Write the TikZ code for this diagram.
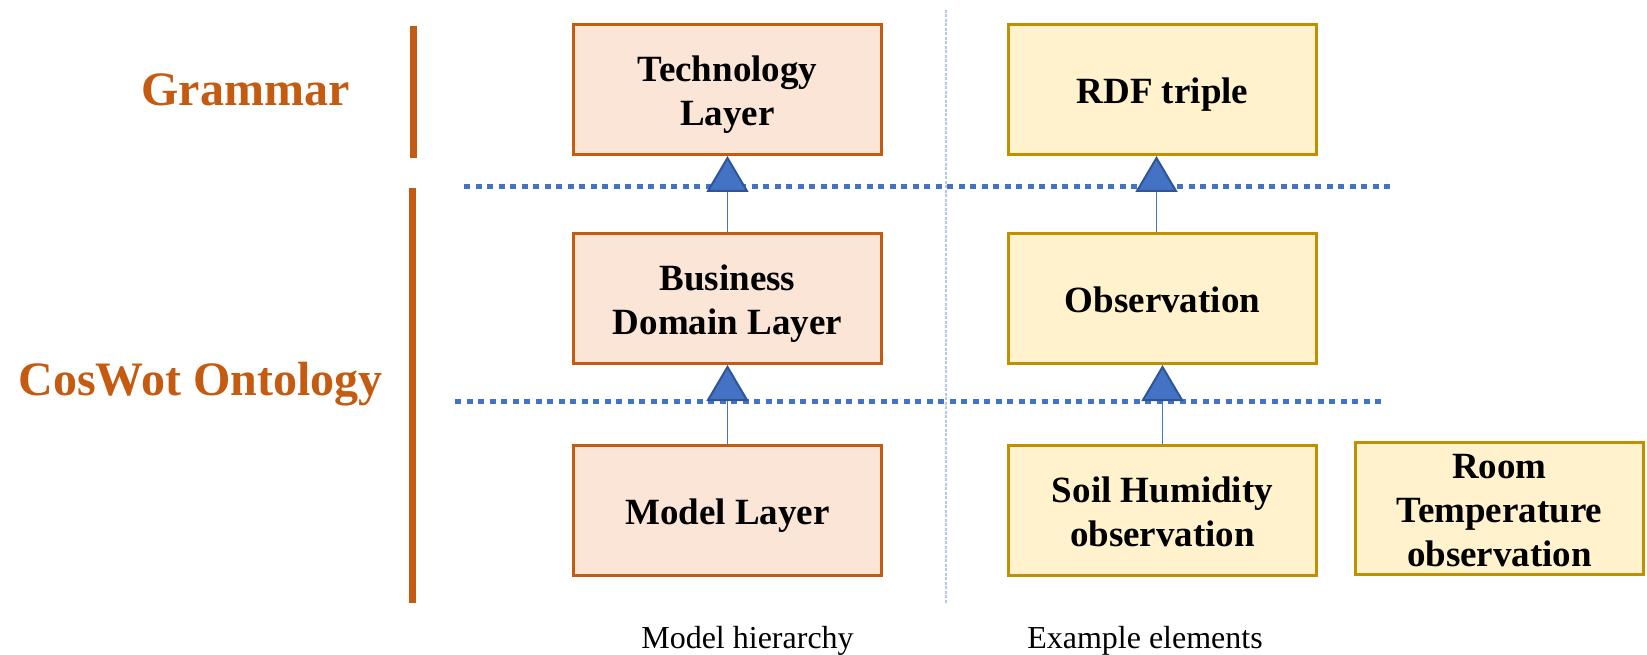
\documentclass[tikz,border=0pt]{standalone}
\usepackage{fontspec}
\setmainfont{Liberation Serif}
\usetikzlibrary{arrows.meta}
\definecolor{orng}{HTML}{C55A11}
\definecolor{orngfill}{HTML}{FBE5D6}
\definecolor{gold}{HTML}{BF9000}
\definecolor{yelfill}{HTML}{FFF2CC}
\definecolor{blu}{HTML}{4472C4}
\definecolor{dblu}{HTML}{2F5597}
\definecolor{lblu}{HTML}{B4C7E7}
\newcommand{\topst}{\rule{0pt}{38pt}}
\newcommand{\botst}{\rule[-10pt]{0pt}{10pt}}
\newcommand{\topsr}{\rule{0pt}{36pt}}
\newcommand{\botsr}{\rule[-8pt]{0pt}{8pt}}
\tikzset{
  boxtext/.style={align=center, font=\bfseries\fontsize{37}{44}\selectfont, inner sep=0pt},
  layerbox/.style={boxtext, draw=orng, fill=orngfill, line width=3pt, minimum width=308pt, minimum height=130pt},
  exbox/.style={boxtext, draw=gold, fill=yelfill, line width=3pt, minimum width=308pt, minimum height=130pt},
  biglabel/.style={text=orng, font=\bfseries\fontsize{48}{56}\selectfont, anchor=base, inner sep=0pt},
  caption/.style={font=\fontsize{32}{38}\selectfont, anchor=base, inner sep=0pt},
  bar/.style={draw=orng, line width=7pt},
  sepline/.style={draw=blu, line width=5pt, dash pattern=on 6pt off 5.5pt},
  conn/.style={draw=blu, line width=1pt, -{Triangle[length=36pt, width=42pt, line width=2pt, color=dblu, fill=blu]}}
}
\begin{document}
\begin{tikzpicture}[x=1pt, y=-1pt]
\useasboundingbox (0,0) rectangle (1647,655);
% labels
\node[biglabel] (gram) at (245.5,106) {Grammar};
\node[biglabel] (onto) at (200.5,395) {CosWot Ontology};
\node[caption] (caph) at (747.5,648) {Model hierarchy};
\node[caption] (cape) at (1145,648) {Example elements};
% bars
\draw[bar] (413,26) -- (413,158);
\draw[bar] (412,188) -- (412,603);
% vertical light separator
\draw[draw=lblu, line width=1.5pt, dash pattern=on 3pt off 1.5pt] (946,10) -- (946,603);
% boxes
\node[layerbox] (tech) at (727.5,89.5) {\topst Technology\\Layer\botst};
\node[layerbox] (biz) at (727.5,298.5) {\topst Business\\Domain Layer\botst};
\node[layerbox] (model) at (727.5,510) {\topst Model Layer\botst};
\node[exbox] (rdf) at (1162.5,89.5) {\topst RDF triple\botst};
\node[exbox] (obs) at (1162.5,298.5) {\topst Observation\botst};
\node[exbox] (soil) at (1162.5,510) {\topst Soil Humidity\\observation\botst};
\node[exbox, minimum width=288pt, minimum height=132pt]
  (room) at (1499.5,508.5) {\topsr Room\\Temperature\\observation\botsr};
% dotted separators
\draw[sepline] (464,187) -- (1393,187);
\draw[sepline] (455,401) -- (1385,401);
% connectors
\draw[conn] (biz.north) -- (tech.south);
\draw[conn] (model.north) -- (biz.south);
\draw[conn] ([xshift=-6pt]obs.north) -- ([xshift=-6pt]rdf.south);
\draw[conn] (soil.north) -- (obs.south);
\end{tikzpicture}
\end{document}
